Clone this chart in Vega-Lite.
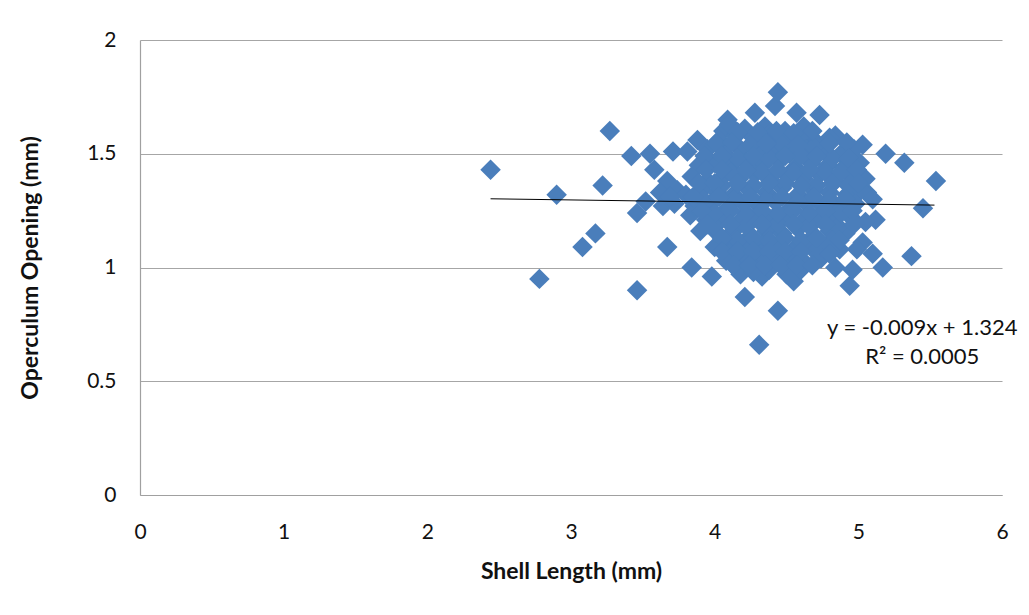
{
  "$schema": "https://vega.github.io/schema/vega-lite/v6.json",
  "width": 862,
  "height": 455,
  "autosize": {"type": "none"},
  "padding": {"left": 140, "top": 40, "right": 27, "bottom": 120},
  "background": "white",
  "config": {
    "view": {"stroke": null},
    "font": "Lato",
    "axis": {
      "labelFont": "Lato",
      "labelFontSize": 21,
      "labelColor": "#111111",
      "labelFlush": false,
      "titleFont": "Lato",
      "titleFontSize": 23,
      "titleFontWeight": "bold",
      "titleColor": "#111111",
      "domainColor": "#a0a0a0",
      "domainWidth": 1.2,
      "gridColor": "#a6a6a6",
      "gridWidth": 1.2,
      "ticks": false,
      "tickSize": 0
    }
  },
  "datasets": {
    "shells": [
      {"len": 2.44, "op": 1.43}, {"len": 2.78, "op": 0.95}, {"len": 2.90, "op": 1.32}, {"len": 3.08, "op": 1.09},
      {"len": 3.17, "op": 1.15}, {"len": 3.22, "op": 1.36}, {"len": 3.27, "op": 1.60}, {"len": 3.42, "op": 1.49},
      {"len": 3.46, "op": 1.24}, {"len": 3.46, "op": 0.90}, {"len": 3.55, "op": 1.50}, {"len": 3.58, "op": 1.43},
      {"len": 3.67, "op": 1.38}, {"len": 3.67, "op": 1.09}, {"len": 3.71, "op": 1.51}, {"len": 3.81, "op": 1.51},
      {"len": 3.84, "op": 1.00}, {"len": 3.88, "op": 1.56}, {"len": 3.98, "op": 0.96}, {"len": 4.06, "op": 1.60},
      {"len": 4.09, "op": 1.65}, {"len": 4.21, "op": 0.87}, {"len": 4.28, "op": 1.68}, {"len": 4.31, "op": 0.66},
      {"len": 4.42, "op": 1.71}, {"len": 4.44, "op": 1.77}, {"len": 4.44, "op": 0.81}, {"len": 4.57, "op": 1.68},
      {"len": 4.73, "op": 1.67}, {"len": 4.66, "op": 1.58}, {"len": 4.84, "op": 1.58}, {"len": 5.03, "op": 1.54},
      {"len": 5.19, "op": 1.50}, {"len": 5.32, "op": 1.46}, {"len": 5.54, "op": 1.38}, {"len": 5.45, "op": 1.26},
      {"len": 5.37, "op": 1.05}, {"len": 5.17, "op": 1.00}, {"len": 4.94, "op": 0.92}, {"len": 4.84, "op": 1.00},
      {"len": 4.96, "op": 0.99}, {"len": 4.18, "op": 0.97}, {"len": 4.33, "op": 0.96}, {"len": 4.55, "op": 0.94},
      {"len": 5.06, "op": 1.33}, {"len": 5.10, "op": 1.30}, {"len": 5.12, "op": 1.21}, {"len": 4.91, "op": 1.15},
      {"len": 5.03, "op": 1.11}, {"len": 5.10, "op": 1.06}, {"len": 4.99, "op": 1.08}, {"len": 3.83, "op": 1.23},
      {"len": 3.90, "op": 1.16},
      {"len": 4.10, "op": 1.63}, {"len": 4.21, "op": 1.61}, {"len": 4.35, "op": 1.62}, {"len": 4.49, "op": 1.60}, {"len": 4.62, "op": 1.62},
      {"len": 4.03, "op": 1.56}, {"len": 4.15, "op": 1.58}, {"len": 4.27, "op": 1.57}, {"len": 4.38, "op": 1.59}, {"len": 4.48, "op": 1.56},
      {"len": 4.59, "op": 1.57}, {"len": 4.71, "op": 1.55}, {"len": 4.80, "op": 1.57},
      {"len": 3.95, "op": 1.52}, {"len": 4.07, "op": 1.50}, {"len": 4.18, "op": 1.52}, {"len": 4.30, "op": 1.51}, {"len": 4.41, "op": 1.53},
      {"len": 4.52, "op": 1.50}, {"len": 4.64, "op": 1.52}, {"len": 4.76, "op": 1.51}, {"len": 4.88, "op": 1.50}, {"len": 4.97, "op": 1.52},
      {"len": 3.89, "op": 1.45}, {"len": 4.00, "op": 1.46}, {"len": 4.11, "op": 1.44}, {"len": 4.22, "op": 1.46}, {"len": 4.33, "op": 1.45},
      {"len": 4.45, "op": 1.47}, {"len": 4.56, "op": 1.44}, {"len": 4.67, "op": 1.46}, {"len": 4.79, "op": 1.45}, {"len": 4.90, "op": 1.44},
      {"len": 5.01, "op": 1.46},
      {"len": 3.84, "op": 1.40}, {"len": 3.95, "op": 1.38}, {"len": 4.06, "op": 1.40}, {"len": 4.17, "op": 1.39}, {"len": 4.28, "op": 1.41},
      {"len": 4.39, "op": 1.38}, {"len": 4.51, "op": 1.40}, {"len": 4.62, "op": 1.39}, {"len": 4.73, "op": 1.41}, {"len": 4.84, "op": 1.38},
      {"len": 4.95, "op": 1.40}, {"len": 5.05, "op": 1.39},
      {"len": 3.62, "op": 1.33}, {"len": 3.74, "op": 1.34}, {"len": 3.80, "op": 1.32}, {"len": 3.91, "op": 1.34}, {"len": 4.02, "op": 1.33},
      {"len": 4.13, "op": 1.32}, {"len": 4.24, "op": 1.34}, {"len": 4.36, "op": 1.33}, {"len": 4.47, "op": 1.35}, {"len": 4.58, "op": 1.32},
      {"len": 4.69, "op": 1.34}, {"len": 4.80, "op": 1.33}, {"len": 4.92, "op": 1.32}, {"len": 5.02, "op": 1.34},
      {"len": 3.52, "op": 1.29}, {"len": 3.64, "op": 1.27}, {"len": 3.72, "op": 1.28}, {"len": 3.86, "op": 1.27}, {"len": 3.97, "op": 1.28},
      {"len": 4.09, "op": 1.26}, {"len": 4.20, "op": 1.28}, {"len": 4.31, "op": 1.27}, {"len": 4.42, "op": 1.29}, {"len": 4.53, "op": 1.26},
      {"len": 4.64, "op": 1.28}, {"len": 4.75, "op": 1.27}, {"len": 4.87, "op": 1.26}, {"len": 4.98, "op": 1.28},
      {"len": 3.94, "op": 1.21}, {"len": 4.05, "op": 1.22}, {"len": 4.17, "op": 1.20}, {"len": 4.28, "op": 1.22}, {"len": 4.39, "op": 1.21},
      {"len": 4.50, "op": 1.23}, {"len": 4.61, "op": 1.20}, {"len": 4.72, "op": 1.22}, {"len": 4.83, "op": 1.21}, {"len": 4.95, "op": 1.22},
      {"len": 5.05, "op": 1.20},
      {"len": 4.02, "op": 1.15}, {"len": 4.13, "op": 1.16}, {"len": 4.25, "op": 1.14}, {"len": 4.36, "op": 1.16}, {"len": 4.47, "op": 1.15},
      {"len": 4.58, "op": 1.17}, {"len": 4.69, "op": 1.14}, {"len": 4.80, "op": 1.16}, {"len": 4.90, "op": 1.15},
      {"len": 4.00, "op": 1.09}, {"len": 4.11, "op": 1.10}, {"len": 4.22, "op": 1.08}, {"len": 4.33, "op": 1.10}, {"len": 4.44, "op": 1.09},
      {"len": 4.55, "op": 1.08}, {"len": 4.66, "op": 1.10}, {"len": 4.77, "op": 1.09}, {"len": 4.87, "op": 1.08},
      {"len": 4.08, "op": 1.03}, {"len": 4.19, "op": 1.04}, {"len": 4.30, "op": 1.02}, {"len": 4.41, "op": 1.04}, {"len": 4.52, "op": 1.03},
      {"len": 4.63, "op": 1.02}, {"len": 4.74, "op": 1.04},
      {"len": 4.16, "op": 0.99}, {"len": 4.27, "op": 0.98}, {"len": 4.38, "op": 0.99}, {"len": 4.50, "op": 0.97}, {"len": 4.60, "op": 0.99},
      {"len": 4.16, "op": 1.48}, {"len": 4.38, "op": 1.48}, {"len": 4.60, "op": 1.49}, {"len": 4.82, "op": 1.48},
      {"len": 4.05, "op": 1.36}, {"len": 4.27, "op": 1.36}, {"len": 4.49, "op": 1.37}, {"len": 4.71, "op": 1.36}, {"len": 4.93, "op": 1.36},
      {"len": 3.92, "op": 1.30}, {"len": 4.14, "op": 1.30}, {"len": 4.36, "op": 1.30}, {"len": 4.58, "op": 1.30}, {"len": 4.80, "op": 1.30},
      {"len": 4.00, "op": 1.18}, {"len": 4.22, "op": 1.18}, {"len": 4.44, "op": 1.19}, {"len": 4.66, "op": 1.18}, {"len": 4.86, "op": 1.18},
      {"len": 4.10, "op": 1.06}, {"len": 4.32, "op": 1.06}, {"len": 4.54, "op": 1.06}, {"len": 4.70, "op": 1.07},
      {"len": 4.25, "op": 1.54}, {"len": 4.47, "op": 1.54}, {"len": 4.69, "op": 1.53},
      {"len": 4.11, "op": 1.42}, {"len": 4.33, "op": 1.42}, {"len": 4.55, "op": 1.42}, {"len": 4.77, "op": 1.42},
      {"len": 4.00, "op": 1.24}, {"len": 4.22, "op": 1.24}, {"len": 4.44, "op": 1.24}, {"len": 4.66, "op": 1.24}, {"len": 4.88, "op": 1.24},
      {"len": 4.16, "op": 1.12}, {"len": 4.38, "op": 1.12}, {"len": 4.60, "op": 1.12}, {"len": 4.82, "op": 1.12},
      {"len": 4.16, "op": 1.595}, {"len": 4.30, "op": 1.595}, {"len": 4.43, "op": 1.60}, {"len": 4.55, "op": 1.59}, {"len": 4.68, "op": 1.60},
      {"len": 4.01, "op": 1.545}, {"len": 4.12, "op": 1.55}, {"len": 4.36, "op": 1.545}, {"len": 4.58, "op": 1.54}, {"len": 4.80, "op": 1.545}, {"len": 4.92, "op": 1.55},
      {"len": 3.93, "op": 1.49}, {"len": 4.05, "op": 1.49}, {"len": 4.27, "op": 1.49}, {"len": 4.49, "op": 1.49}, {"len": 4.71, "op": 1.49}, {"len": 4.93, "op": 1.48},
      {"len": 3.94, "op": 1.43}, {"len": 4.05, "op": 1.43}, {"len": 4.22, "op": 1.43}, {"len": 4.44, "op": 1.43}, {"len": 4.66, "op": 1.43}, {"len": 4.88, "op": 1.42}, {"len": 4.99, "op": 1.43},
      {"len": 3.89, "op": 1.37}, {"len": 4.00, "op": 1.37}, {"len": 4.16, "op": 1.37}, {"len": 4.38, "op": 1.37}, {"len": 4.60, "op": 1.36}, {"len": 4.82, "op": 1.37}, {"len": 5.00, "op": 1.37},
      {"len": 3.69, "op": 1.31}, {"len": 3.85, "op": 1.31}, {"len": 4.03, "op": 1.31}, {"len": 4.25, "op": 1.31}, {"len": 4.47, "op": 1.31}, {"len": 4.69, "op": 1.31}, {"len": 4.91, "op": 1.30},
      {"len": 3.91, "op": 1.25}, {"len": 4.11, "op": 1.25}, {"len": 4.33, "op": 1.25}, {"len": 4.55, "op": 1.25}, {"len": 4.77, "op": 1.25}, {"len": 4.96, "op": 1.25},
      {"len": 3.95, "op": 1.19}, {"len": 4.11, "op": 1.19}, {"len": 4.33, "op": 1.19}, {"len": 4.55, "op": 1.19}, {"len": 4.77, "op": 1.19}, {"len": 4.97, "op": 1.19},
      {"len": 4.05, "op": 1.13}, {"len": 4.27, "op": 1.13}, {"len": 4.49, "op": 1.13}, {"len": 4.71, "op": 1.13}, {"len": 4.87, "op": 1.12},
      {"len": 4.05, "op": 1.07}, {"len": 4.16, "op": 1.07}, {"len": 4.27, "op": 1.07}, {"len": 4.38, "op": 1.07}, {"len": 4.49, "op": 1.07}, {"len": 4.60, "op": 1.07}, {"len": 4.80, "op": 1.06},
      {"len": 4.13, "op": 1.01}, {"len": 4.24, "op": 1.01}, {"len": 4.35, "op": 1.01}, {"len": 4.46, "op": 1.01}, {"len": 4.57, "op": 1.01}, {"len": 4.68, "op": 1.01}
    ],
    "trend": [
      {"len": 2.44, "op": 1.30204},
      {"len": 5.53, "op": 1.27423}
    ],
    "equation": [
      {"len": 5.445, "op": 0.734, "label": "y = -0.009x + 1.324"},
      {"len": 5.445, "op": 0.607, "label": "R² = 0.0005"}
    ]
  },
  "encoding": {
    "x": {
      "field": "len",
      "type": "quantitative",
      "scale": {"domain": [0, 6], "nice": false, "zero": true},
      "axis": {
        "title": "Shell Length (mm)",
        "values": [0, 1, 2, 3, 4, 5, 6],
        "format": "~g",
        "grid": false,
        "labelPadding": 26,
        "titlePadding": 18
      }
    },
    "y": {
      "field": "op",
      "type": "quantitative",
      "scale": {"domain": [0, 2], "nice": false},
      "axis": {
        "title": "Operculum Opening (mm)",
        "values": [0, 0.5, 1, 1.5, 2],
        "format": "~g",
        "grid": true,
        "labelPadding": 24,
        "titlePadding": 44
      }
    }
  },
  "layer": [
    {
      "data": {"name": "shells"},
      "mark": {"type": "point", "shape": "diamond", "filled": true, "size": 420, "opacity": 1, "color": "#4a7ebb", "strokeWidth": 0}
    },
    {
      "data": {"name": "trend"},
      "mark": {"type": "line", "color": "#000000", "strokeWidth": 1}
    },
    {
      "data": {"name": "equation"},
      "mark": {"type": "text", "align": "center", "baseline": "middle", "fontSize": 22, "font": "Lato", "color": "#111111"},
      "encoding": {"text": {"field": "label", "type": "nominal"}}
    }
  ]
}
